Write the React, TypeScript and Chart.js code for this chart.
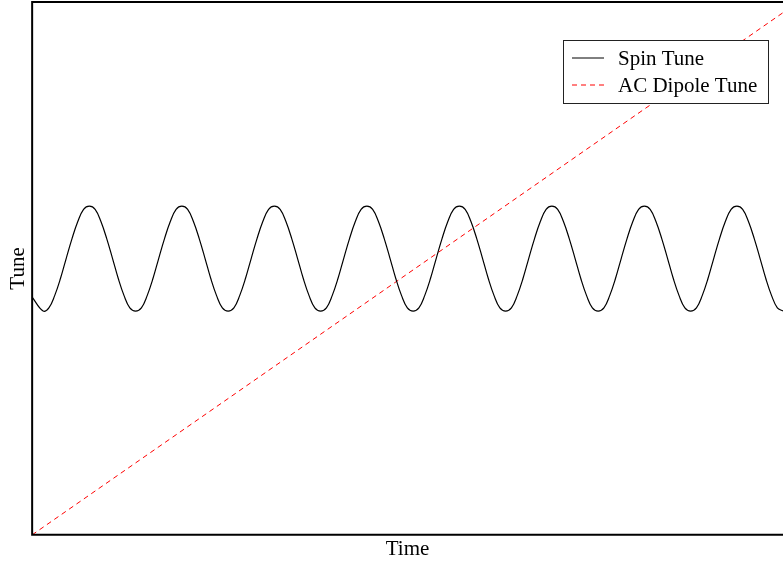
import React, { useEffect, useRef } from "react";
import { Chart, registerables } from "chart.js";

Chart.register(...registerables);

// Spin tune samples
const spinTimes: number[] = [
  0,
  1.46, 2.23, 3.0, 3.77, 4.54, 5.31, 6.08, 6.85, 7.62, 8.39, 9.16, 9.93, 10.7, 11.47, 12.24, 13.01,
  13.78, 14.55, 15.32, 16.09, 16.86, 17.63, 18.4, 19.17, 19.94, 20.71, 21.48, 22.25, 23.02, 23.79, 24.56, 25.33,
  26.1, 26.87, 27.64, 28.41, 29.18, 29.95, 30.72, 31.49, 32.26, 33.03, 33.8, 34.57, 35.34, 36.11, 36.88, 37.65,
  38.42, 39.19, 39.96, 40.73, 41.5, 42.27, 43.04, 43.81, 44.58, 45.35, 46.12, 46.89, 47.66, 48.43, 49.2, 49.97,
  50.74, 51.51, 52.28, 53.05, 53.82, 54.59, 55.36, 56.13, 56.9, 57.67, 58.44, 59.21, 59.98, 60.75, 61.52, 62.29,
  63.06, 63.83, 64.6, 65.37, 66.14, 66.91, 67.68, 68.45, 69.22, 69.99, 70.76, 71.53, 72.3, 73.07, 73.84, 74.61,
  75.38, 76.15, 76.92, 77.69, 78.46, 79.23, 80.0, 80.77, 81.54, 82.31, 83.08, 83.85, 84.62, 85.39, 86.16, 86.93,
  87.7, 88.47, 89.24, 90.01, 90.78, 91.55, 92.32, 93.09, 93.86, 94.63, 95.4, 96.17, 96.94, 97.71, 98.48, 99.25,
  100,
];
const spinTune: number[] = [
  0.446,
  0.42, 0.426, 0.449, 0.481, 0.519, 0.556, 0.588, 0.611, 0.617, 0.611, 0.588, 0.556, 0.519, 0.481, 0.449, 0.426,
  0.42, 0.426, 0.449, 0.481, 0.519, 0.556, 0.588, 0.611, 0.617, 0.611, 0.588, 0.556, 0.519, 0.481, 0.449, 0.426,
  0.42, 0.426, 0.449, 0.481, 0.519, 0.556, 0.588, 0.611, 0.617, 0.611, 0.588, 0.556, 0.519, 0.481, 0.449, 0.426,
  0.42, 0.426, 0.449, 0.481, 0.519, 0.556, 0.588, 0.611, 0.617, 0.611, 0.588, 0.556, 0.519, 0.481, 0.449, 0.426,
  0.42, 0.426, 0.449, 0.481, 0.519, 0.556, 0.588, 0.611, 0.617, 0.611, 0.588, 0.556, 0.519, 0.481, 0.449, 0.426,
  0.42, 0.426, 0.449, 0.481, 0.519, 0.556, 0.588, 0.611, 0.617, 0.611, 0.588, 0.556, 0.519, 0.481, 0.449, 0.426,
  0.42, 0.426, 0.449, 0.481, 0.519, 0.556, 0.588, 0.611, 0.617, 0.611, 0.588, 0.556, 0.519, 0.481, 0.449, 0.426,
  0.42, 0.426, 0.449, 0.481, 0.519, 0.556, 0.588, 0.611, 0.617, 0.611, 0.588, 0.556, 0.519, 0.481, 0.449, 0.426,
  0.42,
];
const acTimes: number[] = [0, 100];
const acTune: number[] = [0, 0.98];

const xLabel = "Time";
const yLabel = "Tune";
const seriesLabels = ["Spin Tune", "AC Dipole Tune"];

const FONT = "'Liberation Serif', 'Times New Roman', serif";

const framePlugin = {
  id: "frame",
  afterDatasetsDraw(chart: any) {
    const { ctx, chartArea } = chart;
    const { left, top, right, bottom } = chartArea;
    ctx.save();
    ctx.strokeStyle = "#000";
    ctx.lineWidth = 2;
    ctx.beginPath();
    ctx.moveTo(right + 2, top);
    ctx.lineTo(left, top);
    ctx.lineTo(left, bottom);
    ctx.lineTo(right + 2, bottom);
    ctx.stroke();
    ctx.restore();
  },
};

const legendPlugin = {
  id: "boxLegend",
  afterDraw(chart: any) {
    const { ctx } = chart;
    const bx = 563.5, by = 40.5, bw = 205, bh = 63;
    ctx.save();
    ctx.fillStyle = "#fff";
    ctx.fillRect(bx, by, bw, bh);
    ctx.strokeStyle = "#222";
    ctx.lineWidth = 1;
    ctx.strokeRect(bx, by, bw, bh);
    ctx.font = `21px ${FONT}`;
    ctx.textBaseline = "middle";
    ctx.fillStyle = "#000";
    chart.data.datasets.forEach((ds: any, i: number) => {
      const y = 58 + i * 27;
      ctx.beginPath();
      ctx.strokeStyle = ds.borderColor;
      ctx.lineWidth = 1;
      ctx.setLineDash(ds.borderDash || []);
      ctx.moveTo(572, y);
      ctx.lineTo(604, y);
      ctx.stroke();
      ctx.setLineDash([]);
      ctx.fillText(ds.label, 618, y + 1);
    });
    ctx.restore();
  },
};

export default function App() {
  const ref = useRef<HTMLCanvasElement | null>(null);
  useEffect(() => {
    if (!ref.current) return;
    const chart = new Chart(ref.current, {
      type: "line",
      data: {
        datasets: [
          {
            label: seriesLabels[0],
            data: spinTimes.map((t, i) => ({ x: t, y: spinTune[i] })),
            borderColor: "#000000",
            borderWidth: 1.2,
            pointRadius: 0,
            tension: 0.4,
            fill: false,
          },
          {
            label: seriesLabels[1],
            data: acTimes.map((t, i) => ({ x: t, y: acTune[i] })),
            borderColor: "#ff0000",
            borderWidth: 1,
            borderDash: [5, 4],
            pointRadius: 0,
            fill: false,
          },
        ],
      },
      options: {
        responsive: false,
        animation: false,
        layout: { padding: { top: 2, right: 0, left: 0, bottom: 0 } },
        plugins: { legend: { display: false }, tooltip: { enabled: false } },
        scales: {
          x: {
            type: "linear",
            min: 0,
            max: 100,
            ticks: { display: false },
            grid: { display: false, drawTicks: false },
            border: { display: false },
            title: {
              display: true,
              text: xLabel,
              color: "#000",
              font: { family: FONT, size: 21, lineHeight: 1.15 },
              padding: { top: 3, bottom: 1 },
            },
          },
          y: {
            type: "linear",
            min: 0,
            max: 1,
            ticks: { display: false },
            grid: { display: false, drawTicks: false },
            border: { display: false },
            title: {
              display: true,
              text: yLabel,
              color: "#000",
              font: { family: FONT, size: 21, lineHeight: 1.15 },
              padding: { top: 6, bottom: 2 },
            },
          },
        },
      },
      plugins: [framePlugin, legendPlugin],
    });
    return () => chart.destroy();
  }, []);
  return (
    <div style={{ position: "fixed", left: 0, top: 0, width: 783, height: 563, background: "#fff" }}>
      <canvas ref={ref} width={783} height={563} style={{ display: "block" }} />
    </div>
  );
}
